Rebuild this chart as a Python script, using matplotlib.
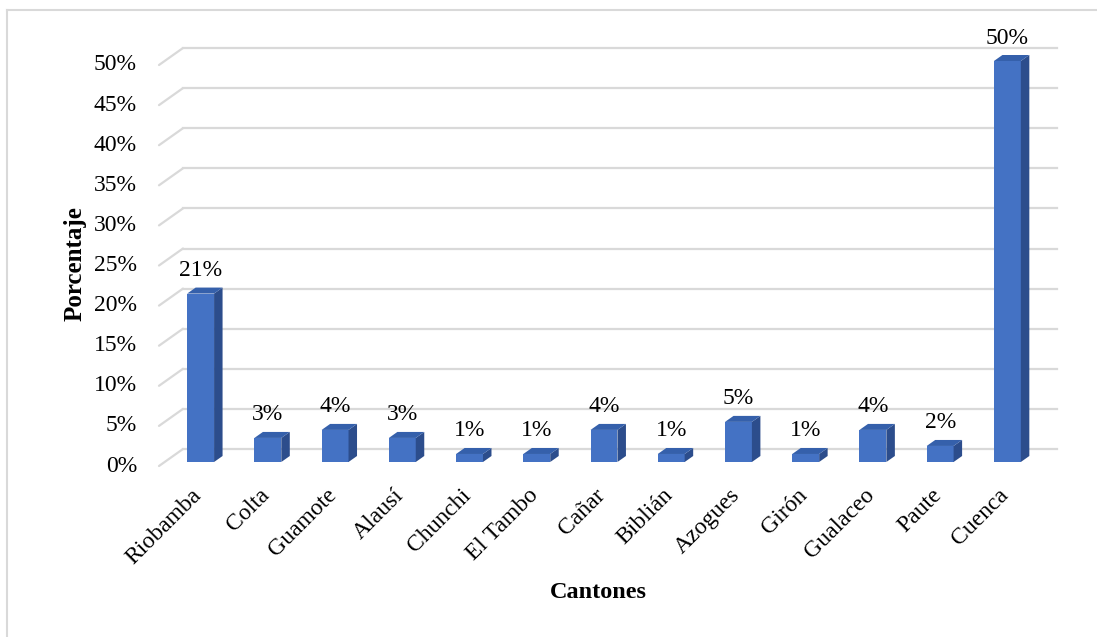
import numpy as np
import matplotlib
matplotlib.use("Agg")
import matplotlib.pyplot as plt
from matplotlib.patches import Polygon
from matplotlib.lines import Line2D
from matplotlib.transforms import offset_copy, IdentityTransform

cantones = ["Riobamba", "Colta", "Guamote", "Alausí", "Chunchi", "El Tambo", "Cañar",
            "Biblián", "Azogues", "Girón", "Gualaceo", "Paute", "Cuenca"]
porcentaje = [21, 3, 4, 3, 1, 1, 4, 1, 5, 1, 4, 2, 50]
yticks = [0, 5, 10, 15, 20, 25, 30, 35, 40, 45, 50]

W, H = 1097, 637
plt.rcParams['font.family'] = ['Liberation Serif', 'DejaVu Serif']
fs = 17

fig = plt.figure(figsize=(W / 100, H / 100), dpi=100)
# front plane of the 3d box
ax = fig.add_axes([159 / W, (H - 466) / H, 874 / W, (466 - 65) / H])
ax.set_xlim(-0.5, len(cantones) - 0.5)
ax.set_ylim(0, 50)
ax.axis("off")

grid_c = "#d9d9d9"
wall_dx, wall_dy = 24, 17       # floor depth in pixels
bar_dx, bar_dy = 8, 4           # bar front face inside the box
dep_dx, dep_dy = 8.5, 6         # bar depth
bw = 0.40

# gridlines: back wall + side wall diagonal
back = offset_copy(ax.transData, fig, x=wall_dx, y=wall_dy, units='dots')
for v in yticks:
    ax.plot([-0.5, len(cantones) - 0.5], [v, v], color=grid_c, lw=1.6,
            transform=back, clip_on=False, zorder=1)
    ax.annotate("", xy=(-0.5, v), xytext=(wall_dx, wall_dy), textcoords="offset pixels",
                arrowprops=dict(arrowstyle="-", color=grid_c, lw=1.6, shrinkA=0, shrinkB=0),
                zorder=1)
    ax.annotate(f"{v}%", xy=(-0.5, v), xytext=(-22, 0), textcoords="offset pixels",
                ha="right", va="center", fontsize=fs)

front = offset_copy(ax.transData, fig, x=bar_dx, y=bar_dy, units='dots')
x = np.arange(len(cantones))
ax.bar(x, porcentaje, width=bw, color="#4472c4", transform=front, clip_on=False, zorder=3)

for xi, v in zip(x, porcentaje):
    pts = front.transform([(xi - bw / 2, 0), (xi + bw / 2, 0), (xi + bw / 2, v), (xi - bw / 2, v)])
    bl, br, tr, tl = pts
    d = np.array([dep_dx, dep_dy])
    side = Polygon([br, br + d, tr + d, tr], closed=True, facecolor="#2c4d8c",
                   edgecolor="none", transform=IdentityTransform(), zorder=2)
    top = Polygon([tl, tr, tr + d, tl + d], closed=True, facecolor="#3560ab",
                  edgecolor="none", transform=IdentityTransform(), zorder=2)
    fig.add_artist(side)
    fig.add_artist(top)
    ax.annotate(f"{v}%", xy=(xi, v), xytext=(bar_dx, bar_dy + dep_dy + 17),
                textcoords="offset pixels", ha="center", va="center", fontsize=fs)

for xi, name in zip(x, cantones):
    ax.annotate(name, xy=(xi, 0), xytext=(6, -26), textcoords="offset pixels",
                ha="right", va="center", rotation=45, rotation_mode="anchor", fontsize=fs)

fig.text(75 / W, 1 - 264 / H, "Porcentaje", rotation=90, ha="center", va="center",
         fontsize=18, fontweight="bold")
fig.text(598 / W, 1 - 593 / H, "Cantones", ha="center", va="center",
         fontsize=17.5, fontweight="bold")

# outer frame (only top and left visible)
fig.add_artist(Line2D([7 / W, 7 / W], [0, 1 - 10 / H], color="#d9d9d9", lw=1.5,
                      transform=fig.transFigure))
fig.add_artist(Line2D([7 / W, 1], [1 - 10 / H, 1 - 10 / H], color="#d9d9d9", lw=1.5,
                      transform=fig.transFigure))

fig.savefig("out.png", dpi=100)
